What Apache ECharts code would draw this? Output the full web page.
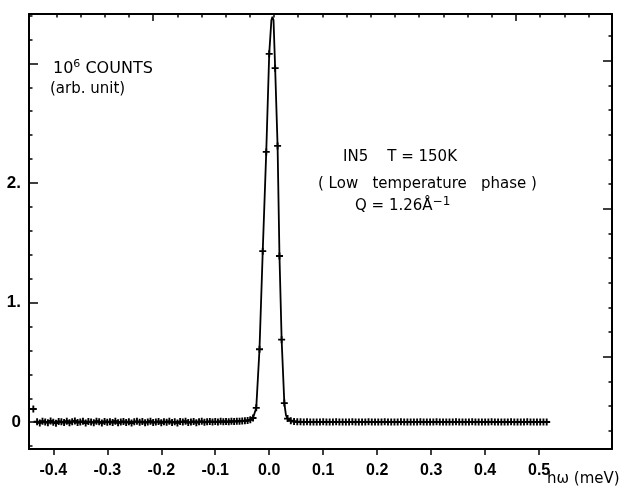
<!DOCTYPE html>
<html>
<head>
<meta charset="utf-8">
<script src="https://cdn.jsdelivr.net/npm/echarts@6/dist/echarts.min.js"></script>
<style>html,body{margin:0;padding:0;background:#fff}#c{width:623px;height:487px}</style>
</head>
<body>
<div id="c"></div>
<script>
// ---- data (energy hw in meV, counts in 10^6) ----
const isolatedX = [-0.437];
const isolatedY = [0.11];

const leftX = [-0.430,-0.425,-0.420,-0.415,-0.410,-0.405,-0.400,-0.395,-0.390,-0.385,
 -0.380,-0.375,-0.370,-0.365,-0.360,-0.355,-0.350,-0.345,-0.340,-0.335,
 -0.330,-0.325,-0.320,-0.315,-0.310,-0.305,-0.300,-0.295,-0.290,-0.285,
 -0.280,-0.275,-0.270,-0.265,-0.260,-0.255,-0.250,-0.245,-0.240,-0.235,
 -0.230,-0.225,-0.220,-0.215,-0.210,-0.205,-0.200,-0.195,-0.190,-0.185,
 -0.180,-0.175,-0.170,-0.165,-0.160,-0.155,-0.150,-0.145,-0.140,-0.135,
 -0.130,-0.125,-0.120,-0.115,-0.110,-0.105,-0.100,-0.095,-0.090,-0.085,
 -0.080,-0.075,-0.070,-0.065,-0.060,-0.055,-0.050,-0.045,-0.040,-0.035,
 -0.030];
const leftY = [0.004,-0.006,0.008,0.002,-0.004,0.010,0.000,-0.008,0.006,0.003,
 -0.002,0.009,-0.005,0.004,0.011,-0.003,0.002,0.007,-0.007,0.005,
 0.001,-0.004,0.008,0.003,-0.006,0.006,0.000,0.004,-0.003,0.009,
 -0.005,0.002,0.006,-0.002,0.004,-0.007,0.003,0.007,-0.001,0.005,
 -0.004,0.002,0.008,-0.003,0.001,0.006,-0.005,0.004,0.000,0.007,
 -0.002,0.003,-0.006,0.005,0.002,0.008,-0.003,0.001,0.006,-0.004,
 0.004,0.007,-0.001,0.003,0.006,0.001,0.005,0.002,0.007,0.004,
 0.006,0.003,0.008,0.005,0.009,0.007,0.010,0.012,0.014,0.020,
 0.035];

const peakX = [-0.024,-0.018,-0.012,-0.0055,0.000,0.011,0.0155,0.019,0.023,0.028];
const peakY = [0.12,0.61,1.43,2.26,3.08,2.96,2.31,1.39,0.69,0.16];

const rightX = [0.034,0.040,0.046,0.052,0.058,0.064,0.070,0.076,0.082,0.088,
 0.094,0.100,0.106,0.112,0.118,0.124,0.130,0.136,0.142,0.148,
 0.154,0.160,0.166,0.172,0.178,0.184,0.190,0.196,0.202,0.208,
 0.214,0.220,0.226,0.232,0.238,0.244,0.250,0.256,0.262,0.268,
 0.274,0.280,0.286,0.292,0.298,0.304,0.310,0.316,0.322,0.328,
 0.334,0.340,0.346,0.352,0.358,0.364,0.370,0.376,0.382,0.388,
 0.394,0.400,0.406,0.412,0.418,0.424,0.430,0.436,0.442,0.448,
 0.454,0.460,0.466,0.472,0.478,0.484,0.490,0.496,0.502,0.508,
 0.514];
const rightY = [0.030,0.012,0.006,0.004,0.003,0.002,0.003,0.001,0.002,0.002,
 0.001,0.003,0.002,0.001,0.002,0.003,0.001,0.002,0.002,0.001,
 0.003,0.002,0.001,0.002,0.002,0.003,0.001,0.002,0.001,0.002,
 0.003,0.002,0.002,0.001,0.002,0.003,0.002,0.001,0.002,0.002,
 0.001,0.003,0.002,0.002,0.001,0.002,0.003,0.001,0.002,0.002,
 0.002,0.001,0.003,0.002,0.001,0.002,0.002,0.003,0.001,0.002,
 0.002,0.001,0.002,0.003,0.002,0.001,0.002,0.002,0.001,0.003,
 0.002,0.002,0.001,0.002,0.003,0.002,0.001,0.002,0.002,0.001,
 0.002];

// fitted curve through the peak (extra points of the drawn line)
const fitX = [-0.027,0.004,0.006,0.008,0.031];
const fitY = [0.05,3.36,3.39,3.36,0.06];

// axis ticks
const xTickVals = [-0.4,-0.3,-0.2,-0.1,0.0,0.1,0.2,0.3,0.4,0.5];
const yMajor = [0,1,2,3];
const yLabels = [0,1,2];
const yMinor = [-0.2,0.2,0.4,0.6,0.8,1.2,1.4,1.6,1.8,2.2,2.4,2.6,2.8,3.2,3.4];
const topMajor = [0,15];
const topMinor = [-4,-3,-2,-1,1,2,3,4,5,6,7,8,9,10,11,12,13,14,16,17,18];
const rightMajor = [0,6,12];
const rightMinor = [-3,-2,-1,1,2,3,4,5,7,8,9,10,11,13];

// ---- build ----
const zip = (xs, ys) => xs.map((x, i) => [x, ys[i]]);
const measured = [].concat(zip(isolatedX, isolatedY), zip(leftX, leftY), zip(peakX, peakY), zip(rightX, rightY));
const fitLine = [].concat(zip(leftX, leftY), zip(peakX, peakY), zip(rightX, rightY), zip(fitX, fitY))
  .sort((a, b) => a[0] - b[0]);

const FONT = "'Liberation Sans',Arial,sans-serif";
const TFONT = "'DejaVu Sans',sans-serif";
const BLACK = '#000';
const plus = 'path://M2.2,0h1.6v6h-1.6zM0,2.2h6v1.6h-6z';

function frameAxis(extra) {
  return Object.assign({
    type: 'value',
    splitLine: { show: false },
    axisLine: { show: true, onZero: false, lineStyle: { color: BLACK, width: 2 } },
    axisLabel: { show: false },
    axisTick: { show: false }
  }, extra);
}
function tickAxis(extra, vals, len) {
  return Object.assign({
    type: 'value',
    splitLine: { show: false },
    axisLine: { show: false, onZero: false },
    axisLabel: { show: false },
    axisTick: { show: true, inside: true, length: len, customValues: vals, lineStyle: { color: BLACK, width: 1.5 } }
  }, extra);
}

const chart = echarts.init(document.getElementById('c'), null, { renderer: 'canvas' });
chart.setOption({
  animation: false,
  backgroundColor: '#fff',
  grid: { left: 29, right: 11, top: 14, bottom: 38, outerBoundsMode: 'none' },
  xAxis: [
    frameAxis({
      position: 'bottom', min: -0.445, max: 0.635,
      axisTick: { show: true, inside: false, length: 6, customValues: xTickVals, lineStyle: { color: BLACK, width: 1.5 } },
      axisLabel: { show: true, customValues: xTickVals, formatter: v => v.toFixed(1), fontSize: 16, fontWeight: 'bold', fontFamily: FONT, color: BLACK, margin: 14 }
    }),
    frameAxis({
      position: 'top', min: -5.13, max: 18.97,
      axisTick: { show: true, inside: true, length: 7, customValues: topMajor, lineStyle: { color: BLACK, width: 1.5 } }
    }),
    tickAxis({ position: 'top', min: -5.13, max: 18.97 }, topMinor, 3.5)
  ],
  yAxis: [
    frameAxis({
      position: 'left', min: -0.224, max: 3.413,
      axisTick: { show: true, inside: true, length: 9, customValues: yMajor, lineStyle: { color: BLACK, width: 1.5 } },
      axisLabel: { show: true, customValues: yLabels, formatter: v => (v === 0 ? '0' : v + '.'), fontSize: 17, fontWeight: 'bold', fontFamily: FONT, color: BLACK, margin: 8 }
    }),
    tickAxis({ position: 'left', min: -0.224, max: 3.413 }, yMinor, 3.5),
    frameAxis({
      position: 'right', min: -3.74, max: 13.89,
      axisTick: { show: true, inside: true, length: 9, customValues: rightMajor, lineStyle: { color: BLACK, width: 1.5 } }
    }),
    tickAxis({ position: 'right', min: -3.74, max: 13.89 }, rightMinor, 3.5)
  ],
  series: [
    {
      type: 'line', xAxisIndex: 0, yAxisIndex: 0, data: fitLine,
      symbol: 'none', lineStyle: { color: BLACK, width: 1.8 }, z: 2, silent: true
    },
    {
      type: 'scatter', xAxisIndex: 0, yAxisIndex: 0, data: measured,
      symbol: plus, symbolSize: 7, itemStyle: { color: BLACK, opacity: 1 }, z: 3, silent: true
    }
  ],
  graphic: [
    { type: 'text', x: 53, y: 69, style: {
        text: '{a|10}{s|6}{a| COUNTS}', fill: BLACK, verticalAlign: 'middle',
        rich: { a: { fontSize: 16, fontFamily: TFONT, lineHeight: 20, fill: BLACK }, s: { fontSize: 11, fontFamily: TFONT, lineHeight: 11, verticalAlign: 'top', fill: BLACK } } } },
    { type: 'text', x: 50, y: 89, style: { text: '(arb. unit)', font: "15px 'DejaVu Sans',sans-serif", fill: BLACK, verticalAlign: 'middle' } },
    { type: 'text', x: 343, y: 157, style: { text: 'IN5    T = 150K', font: "15px 'DejaVu Sans',sans-serif", fill: BLACK, verticalAlign: 'middle' } },
    { type: 'text', x: 318, y: 184, style: { text: '( Low   temperature   phase )', font: "15px 'DejaVu Sans',sans-serif", fill: BLACK, verticalAlign: 'middle' } },
    { type: 'text', x: 355, y: 206, style: {
        text: '{a|Q = 1.26Å}{s|−1}', fill: BLACK, verticalAlign: 'middle',
        rich: { a: { fontSize: 15, fontFamily: TFONT, lineHeight: 20, fill: BLACK }, s: { fontSize: 12, fontFamily: TFONT, lineHeight: 12, verticalAlign: 'top', fill: BLACK } } } },
    { type: 'text', x: 547, y: 479, style: { text: 'hω (meV)', font: "15px 'DejaVu Sans',sans-serif", fill: BLACK, verticalAlign: 'middle' } }
  ]
});
</script>
</body>
</html>
